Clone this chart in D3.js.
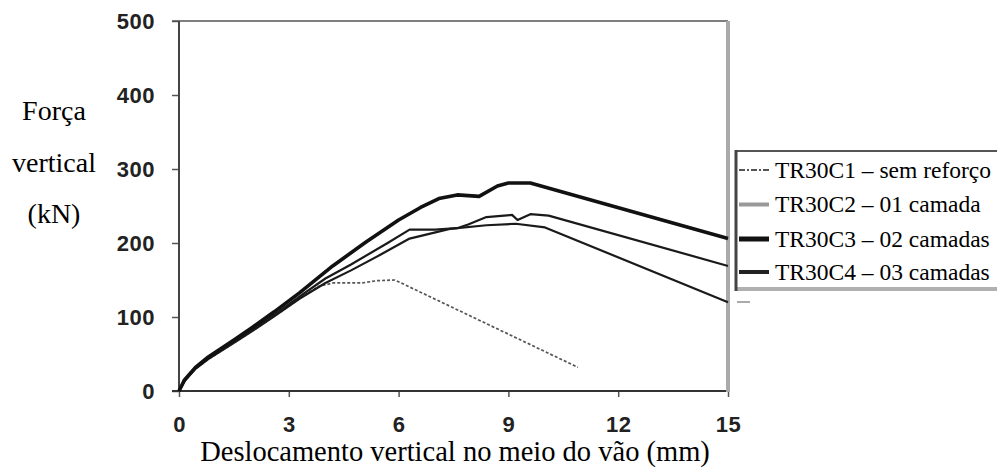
<!DOCTYPE html>
<html>
<head>
<meta charset="utf-8">
<script src="https://cdn.jsdelivr.net/npm/d3@7"></script>
<style>
  body { margin: 0; background: #fff; }
  svg { display: block; }
</style>
</head>
<body>
<div class="viz"></div>
<script>
'use strict'

const width = 997,
  height = 468;

// displacement (mm) / force (kN)
const c1_disp = [0, 0.15, 0.45, 0.8, 1.5, 2.0, 2.6, 3.3, 3.8, 4.2, 5.0, 5.4, 5.9, 10.9];
const c1_force = [0, 13, 30, 43, 65, 81, 101, 125, 141, 146, 146, 149, 150, 32];

const c2_disp = [0, 0.15, 0.45, 0.8, 1.5, 2.0, 2.6, 3.3, 4.0, 4.7, 5.5, 6.3, 7.4, 8.4, 9.2, 10.0, 15];
const c2_force = [0, 13, 30, 43, 65, 81, 101, 125, 146, 163, 184, 206, 219, 224, 226, 221, 120];

const c3_disp = [0, 0.15, 0.45, 0.8, 1.5, 2.0, 2.6, 3.3, 4.2, 5.1, 6.0, 6.6, 7.1, 7.6, 8.2, 8.7, 9.0, 9.6, 15];
const c3_force = [0, 15, 32, 46, 69, 86, 107, 133, 169, 201, 231, 248, 260, 265, 263, 277, 281, 281, 206];

const c4_disp = [0, 0.15, 0.45, 0.8, 1.5, 2.0, 2.6, 3.3, 4.0, 4.7, 5.7, 6.3, 7.0, 7.6, 7.9, 8.4, 9.1, 9.25, 9.6, 10.1, 15];
const c4_force = [0, 14, 31, 44, 67, 83, 103, 128, 152, 171, 200, 218, 218, 220, 225, 235, 238, 231, 239, 237, 169];

const legend_labels = ['TR30C1 \u2013 sem refor\u00e7o', 'TR30C2 \u2013 01 camada',
  'TR30C3 \u2013 02 camadas', 'TR30C4 \u2013 03 camadas'];
const x_ticks = [0, 3, 6, 9, 12, 15];
const y_ticks = [0, 100, 200, 300, 400, 500];

const zip = (xs, ys) => xs.map((d, i) => ({disp: d, force: ys[i]}));
const series = [
  {key: 'c1', values: zip(c1_disp, c1_force), stroke: '#555', width: 1.7, dash: '3,2'},
  {key: 'c2', values: zip(c2_disp, c2_force), stroke: '#1a1a1a', width: 2.2, dash: null},
  {key: 'c4', values: zip(c4_disp, c4_force), stroke: '#1a1a1a', width: 2.2, dash: null},
  {key: 'c3', values: zip(c3_disp, c3_force), stroke: '#111', width: 3.6, dash: null},
];

let svg = d3.select('.viz')
  .append('svg')
  .attr('width', width)
  .attr('height', height);

let x = d3.scaleLinear().domain([0, 15]).range([179, 728]);
let y = d3.scaleLinear().domain([0, 500]).range([391, 21]);

// axes
let x_axis = svg.append('g')
  .attr('transform', `translate(0,${y(0)})`)
  .call(d3.axisBottom(x).tickValues(x_ticks).tickSize(6).tickPadding(19));
let y_axis = svg.append('g')
  .attr('transform', `translate(${x(0)},0)`)
  .call(d3.axisLeft(y).tickValues(y_ticks).tickSize(7).tickPadding(17));
[x_axis, y_axis].forEach(g => {
  g.select('.domain').remove();
  g.selectAll('line').attr('stroke', '#555').attr('stroke-width', 1.5);
  g.selectAll('text')
    .style('font-family', '"Liberation Sans", Arial, sans-serif')
    .style('font-weight', 'bold')
    .style('font-size', '22px')
    .style('letter-spacing', '0.5px')
    .attr('fill', '#222');
});

// frame
svg.append('line')
  .attr('x1', x(0) - 7).attr('x2', x(15))
  .attr('y1', y(500)).attr('y2', y(500))
  .attr('stroke', '#555').attr('stroke-width', 1.5);
svg.append('line')
  .attr('x1', x(0) - 7).attr('x2', x(15))
  .attr('y1', y(0)).attr('y2', y(0))
  .attr('stroke', '#333').attr('stroke-width', 2);
svg.append('line')
  .attr('x1', x(0)).attr('x2', x(0))
  .attr('y1', y(500)).attr('y2', y(0))
  .attr('stroke', '#444').attr('stroke-width', 2);
svg.append('line')
  .attr('x1', x(15)).attr('x2', x(15))
  .attr('y1', y(500)).attr('y2', y(0) + 1)
  .attr('stroke', '#aaa').attr('stroke-width', 4);

// curves
let line = d3.line()
  .x(d => x(d.disp))
  .y(d => y(d.force));
svg.append('g')
  .attr('fill', 'none')
  .attr('stroke-linejoin', 'round')
  .selectAll('path')
  .data(series)
  .join('path')
  .attr('d', d => line(d.values))
  .attr('stroke', d => d.stroke)
  .attr('stroke-width', d => d.width)
  .attr('stroke-dasharray', d => d.dash);

// axis titles
const serif = '"Liberation Serif", "Times New Roman", serif';
svg.append('text')
  .attr('x', 455)
  .attr('y', 461)
  .attr('text-anchor', 'middle')
  .style('font-family', serif)
  .style('font-size', '28.5px')
  .text('Deslocamento vertical no meio do v\u00e3o (mm)');
svg.append('g')
  .selectAll('text')
  .data(['For\u00e7a', 'vertical', '(kN)'])
  .join('text')
  .attr('x', 54)
  .attr('y', (d, i) => 120 + i * 51.5)
  .attr('text-anchor', 'middle')
  .style('font-family', serif)
  .style('font-size', '28px')
  .text(d => d);

// legend
let legend = svg.append('g');
legend.append('line')
  .attr('x1', 735).attr('x2', width)
  .attr('y1', 151).attr('y2', 151)
  .attr('stroke', '#555').attr('stroke-width', 2);
legend.append('line')
  .attr('x1', 735).attr('x2', width)
  .attr('y1', 289).attr('y2', 289)
  .attr('stroke', '#b0b0b0').attr('stroke-width', 4);
legend.append('line')
  .attr('x1', 736).attr('x2', 736)
  .attr('y1', 150).attr('y2', 291)
  .attr('stroke', '#444').attr('stroke-width', 3);
// stray mark below the legend
legend.append('line')
  .attr('x1', 737).attr('x2', 750)
  .attr('y1', 302).attr('y2', 302)
  .attr('stroke', '#aaa').attr('stroke-width', 2);

const marker_styles = [
  {stroke: '#555', width: 2, dash: '6,2,2,2'},
  {stroke: '#999', width: 4, dash: null},
  {stroke: '#111', width: 5, dash: null},
  {stroke: '#222', width: 4, dash: null},
];
const row_y = [170, 204.5, 239, 272];
let rows = legend.selectAll('.row')
  .data(legend_labels)
  .join('g')
  .attr('class', 'row')
  .attr('transform', (d, i) => `translate(0,${row_y[i]})`);
rows.append('line')
  .attr('x1', 739).attr('x2', 769)
  .attr('stroke', (d, i) => marker_styles[i].stroke)
  .attr('stroke-width', (d, i) => marker_styles[i].width)
  .attr('stroke-dasharray', (d, i) => marker_styles[i].dash);
rows.append('text')
  .attr('x', 775)
  .attr('y', 7.5)
  .style('font-family', serif)
  .style('font-size', '23.5px')
  .text(d => d);
</script>
</body>
</html>
